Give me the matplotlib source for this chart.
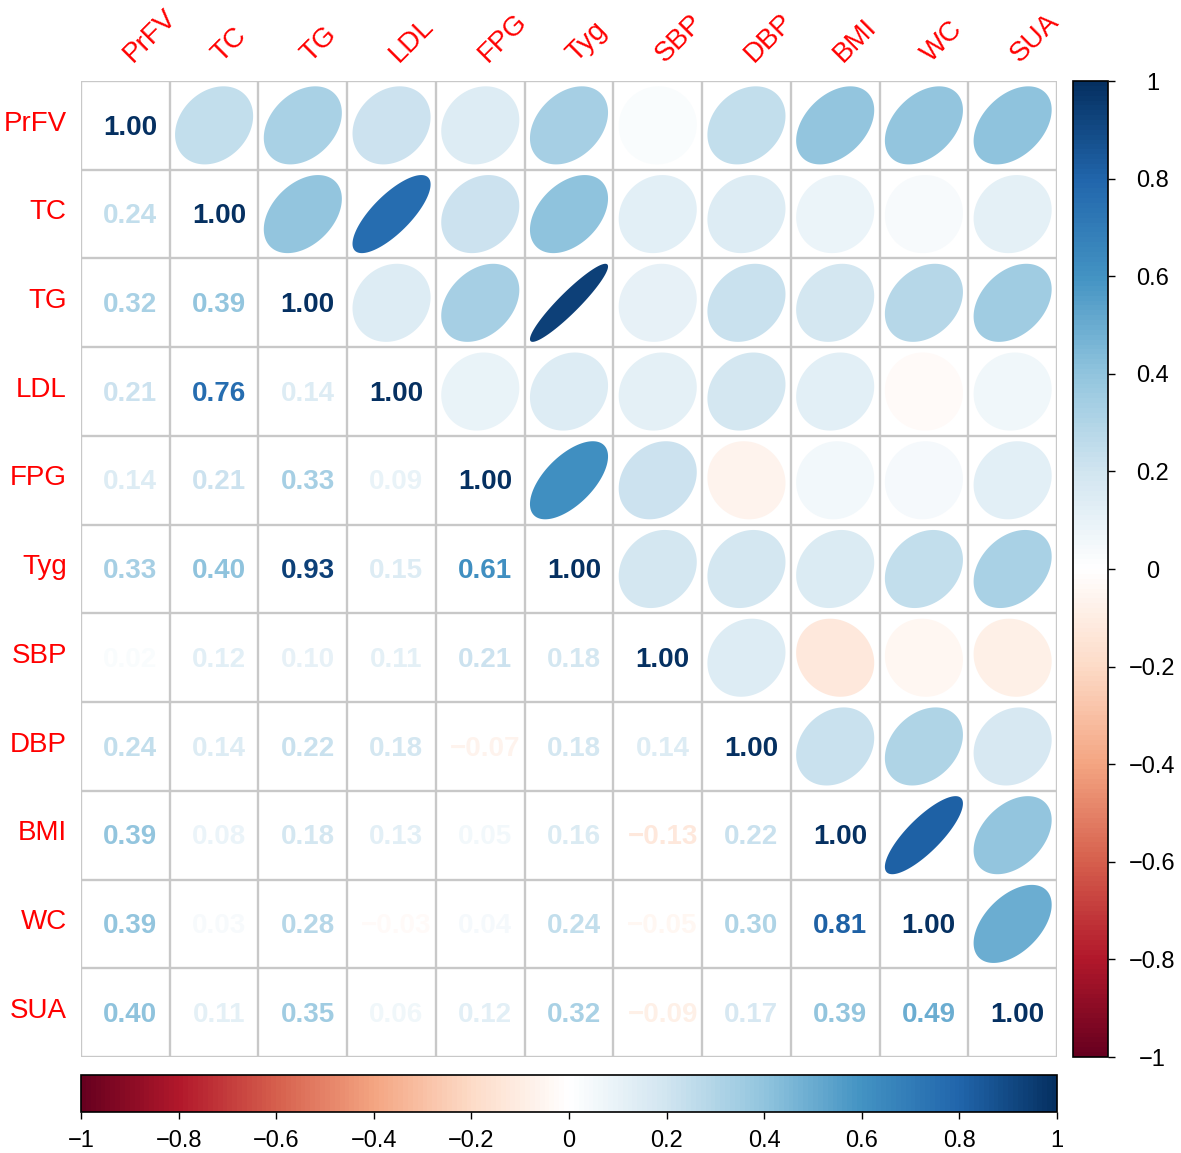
import numpy as np
import matplotlib
matplotlib.use("Agg")
import matplotlib.pyplot as plt
from matplotlib.colors import LinearSegmentedColormap, Normalize
from matplotlib.patches import Polygon
from matplotlib.cm import ScalarMappable

plt.rcParams["font.family"] = ["Liberation Sans", "DejaVu Sans"]

# variables, in display order
LABELS = ["PrFV", "TC", "TG", "LDL", "FPG", "Tyg", "SBP", "DBP", "BMI", "WC", "SUA"]

# lower-triangle correlations (row i, cols 0..i-1)
LOWER = [
    [],
    [0.24],
    [0.32, 0.39],
    [0.21, 0.76, 0.14],
    [0.14, 0.21, 0.33, 0.09],
    [0.33, 0.40, 0.93, 0.15, 0.61],
    [0.02, 0.12, 0.10, 0.11, 0.21, 0.18],
    [0.24, 0.14, 0.22, 0.18, -0.07, 0.18, 0.14],
    [0.39, 0.08, 0.18, 0.13, 0.05, 0.16, -0.13, 0.22],
    [0.39, 0.03, 0.28, -0.03, 0.04, 0.24, -0.05, 0.30, 0.81],
    [0.40, 0.11, 0.35, 0.06, 0.12, 0.32, -0.09, 0.17, 0.39, 0.49],
]
CBAR_TICKS = [-1, -0.8, -0.6, -0.4, -0.2, 0, 0.2, 0.4, 0.6, 0.8, 1]

# corrplot's RdBu ramp
cmap = LinearSegmentedColormap.from_list("corr_rdbu", [
    "#67001F", "#B2182B", "#D6604D", "#F4A582", "#FDDBC7", "#FFFFFF",
    "#D1E5F0", "#92C5DE", "#4393C3", "#2166AC", "#053061"], N=200)
norm = Normalize(-1, 1)

n = len(LABELS)
corr = np.eye(n)
for i, row in enumerate(LOWER):
    for j, v in enumerate(row):
        corr[i, j] = corr[j, i] = v

W, H = 1181, 1153
fig = plt.figure(figsize=(W / 100, H / 100), dpi=100)

# main grid: x 81..1057, y 81..1057 px
ax = fig.add_axes([81 / W, (H - 1057) / H, 976 / W, 976 / H])
ax.set_xlim(0, n)
ax.set_ylim(0, n)
ax.axis("off")

grid_kw = dict(color="#c8c8c8", lw=1.7, zorder=3, solid_capstyle="butt")
for k in range(n + 1):
    ax.plot([k, k], [0, n], **grid_kw)
    ax.plot([0, n], [k, k], **grid_kw)

t = np.linspace(0, 2 * np.pi, 120)
size = 0.44
for i in range(n):
    cy = n - 1 - i + 0.5
    for j in range(n):
        cx = j + 0.5
        r = corr[i, j]
        color = cmap(norm(r))
        if j <= i:
            ax.text(cx + 0.055, cy - 0.025, f"{r:.2f}".replace("-", "\u2212"),
                    color=color, ha="center", va="center", fontsize=20,
                    fontweight="bold", zorder=4)
        else:
            d = np.arccos(r)
            xs = cx + size * np.cos(t + d / 2)
            ys = cy + size * np.cos(t - d / 2)
            ax.add_patch(Polygon(np.column_stack([xs, ys]), closed=True,
                                 facecolor=color, edgecolor="none", zorder=2))

for i, lab in enumerate(LABELS):
    ax.text(-0.16, n - 1 - i + 0.52, lab, color="#ff0000", fontsize=20,
            ha="right", va="center")
    ax.text(i + 0.58, n + 0.2, lab, color="#ff0000", fontsize=20,
            ha="left", va="baseline", rotation=45, rotation_mode="anchor")

sm = ScalarMappable(norm=norm, cmap=cmap)

# right colour legend
cax_r = fig.add_axes([1073 / W, (H - 1057) / H, 35 / W, 976 / H])
cb_r = fig.colorbar(sm, cax=cax_r, orientation="vertical")
cb_r.outline.set_linewidth(1.2)
cb_r.set_ticks(CBAR_TICKS)
cb_r.set_ticklabels([f"{v:g}".replace("-", "\u2212") for v in CBAR_TICKS])
cax_r.tick_params(axis="y", length=5, width=1.0, pad=27, labelsize=17)
for lbl in cax_r.get_yticklabels():
    lbl.set_ha("center")

# bottom colour legend
cax_b = fig.add_axes([81 / W, (H - 1112) / H, 976 / W, 37 / H])
cb_b = fig.colorbar(sm, cax=cax_b, orientation="horizontal")
cb_b.outline.set_linewidth(1.2)
cb_b.set_ticks(CBAR_TICKS)
cb_b.set_ticklabels([f"{v:g}".replace("-", "\u2212") for v in CBAR_TICKS])
cax_b.tick_params(axis="x", length=5, width=1.0, pad=8, labelsize=17)

fig.savefig("out.png", dpi=100, facecolor="white")
